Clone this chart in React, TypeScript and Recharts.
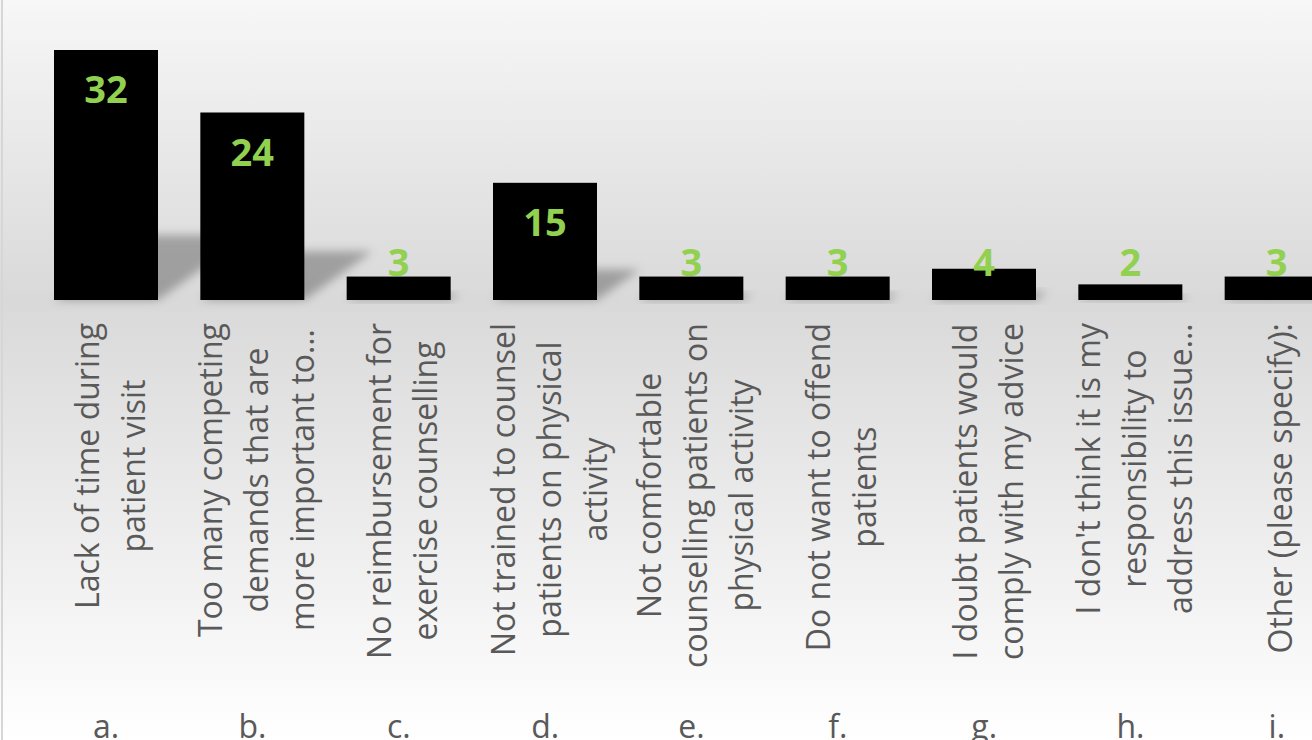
import React from "react";
import { BarChart, Bar, XAxis, YAxis, LabelList } from "recharts";

const categories: string[] = [
  "Lack of time during\npatient visit",
  "Too many competing\ndemands that are\nmore important to…",
  "No reimbursement for\nexercise counselling",
  "Not trained to counsel\npatients on physical\nactivity",
  "Not comfortable\ncounselling patients on\nphysical activity",
  "Do not want to offend\npatients",
  "I doubt patients would\ncomply with my advice",
  "I don't think it is my\nresponsibility to\naddress this issue…",
  "Other (please specify):",
];
const letters: string[] = ["a.", "b.", "c.", "d.", "e.", "f.", "g.", "h.", "i."];
const counts: number[] = [32, 24, 3, 15, 3, 3, 4, 2, 3];

const data = categories.map((c, i) => ({ category: c, letter: letters[i], count: counts[i] }));

const FONT = "'Open Sans', 'DejaVu Sans', sans-serif";
const TEXT_GREY = "#595959";
const GREEN = "#92d050";

let ctx: CanvasRenderingContext2D | null = null;
function measure(text: string, font: string): number {
  if (!ctx) ctx = document.createElement("canvas").getContext("2d");
  if (!ctx) return text.length * 15;
  ctx.font = font;
  return ctx.measureText(text).width;
}

const CategoryTick = (props: any) => {
  const { x, y, payload, index } = props;
  const lines = String(payload.value).split("\n");
  const n = lines.length;
  const pitch = 46;
  const fsize = 32;
  const widths = lines.map((l) => measure(l, `${fsize}px 'Open Sans'`));
  const maxW = Math.max(...widths);
  const cy = y + 23 + maxW / 2;
  return (
    <g>
      {lines.map((l, i) => {
        const lx = x + (i - (n - 1) / 2) * pitch + 3;
        return (
          <text
            key={i}
            x={lx}
            y={cy}
            transform={`rotate(-90 ${lx} ${cy})`}
            textAnchor="middle"
            dominantBaseline="central"
            fontFamily={FONT}
            fontSize={fsize}
            fill={TEXT_GREY}
          >
            {l}
          </text>
        );
      })}
      <text x={x} y={y + 438} textAnchor="middle" fontFamily={FONT} fontSize={32} fill={TEXT_GREY}>
        {letters[index] ?? ""}
      </text>
    </g>
  );
};

const ShadowBar = (props: any) => {
  const { x, y, width, height, fill, index } = props;
  const base = y + height;
  const s = height * 0.26;
  const dx = s * 1.4;
  const id = `shblur${index}`;
  const pts = `${x},${base} ${x + width},${base} ${x + width + dx},${base - s} ${x + dx},${base - s}`;
  return (
    <g>
      <defs>
        <filter id={id} x="-50%" y="-50%" width="200%" height="200%">
          <feGaussianBlur stdDeviation={5} />
        </filter>
      </defs>
      <polygon points={pts} fill="#000" fillOpacity={0.28} filter={`url(#${id})`} />
      <rect x={x} y={y} width={width} height={height} fill={fill} />
    </g>
  );
};

const ValueLabel = (props: any) => {
  const { x, y, width, value } = props;
  const cx = x + width / 2;
  const baseline = Math.min(y + 53, 276);
  return (
    <text x={cx} y={baseline} textAnchor="middle" fontFamily={FONT} fontWeight={700} fontSize={38} fill={GREEN}>
      {value}
    </text>
  );
};

export default function App() {
  return (
    <div
      style={{
        position: "absolute",
        left: 0,
        top: 0,
        width: 1312,
        height: 740,
        overflow: "hidden",
        background: "linear-gradient(to bottom, #f7f7f7 0%, #d9d9d9 40.5%, #ffffff 100%)",
      }}
    >
      <div style={{ position: "absolute", left: 1, top: 0, width: 2, height: 740, background: "#d6d6d6" }} />
      <BarChart
        width={1350}
        height={740}
        data={data}
        margin={{ top: 50, right: 0, bottom: 0, left: 33 }}
        barSize={104}
      >
        <XAxis
          dataKey="category"
          height={440}
          axisLine={false}
          tickLine={false}
          tickSize={0}
          tickMargin={0}
          interval={0}
          tick={<CategoryTick />}
        />
        <YAxis hide domain={[0, 32]} />
        <Bar dataKey="count" fill="#000000" isAnimationActive={false} shape={<ShadowBar />}>
          <LabelList dataKey="count" content={<ValueLabel />} />
        </Bar>
      </BarChart>
    </div>
  );
}
